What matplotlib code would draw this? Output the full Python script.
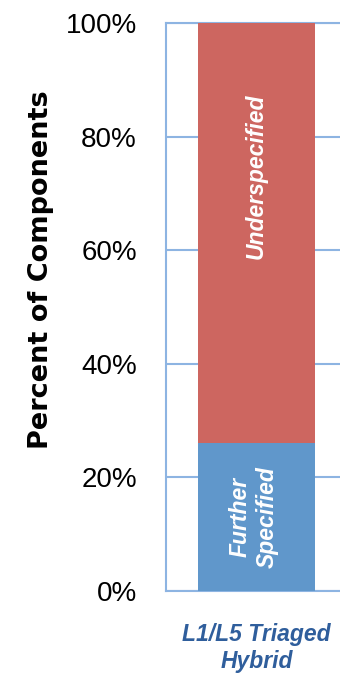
import matplotlib
matplotlib.use("Agg")
import matplotlib.pyplot as plt
from matplotlib.ticker import FuncFormatter

categories = ["L1/L5 Triaged\nHybrid"]
further_specified = [26]
underspecified = [74]
segment_labels = ["Further\nSpecified", "Underspecified"]
yticks = [0, 20, 40, 60, 80, 100]

red = "#CD6660"
blue = "#6097CB"
grid_c = "#8DB4E2"

fig = plt.figure(figsize=(3.4, 6.74), dpi=100)
ax = fig.add_axes([166/340, 83/674, 188/340, 568/674])

x = list(range(len(categories)))
w = 0.6
b1 = ax.bar(x, further_specified, width=w, color=blue, zorder=3)
b2 = ax.bar(x, underspecified, width=w, bottom=further_specified, color=red, zorder=3)

for i in x:
    ax.text(i - 0.015, further_specified[i] / 2, segment_labels[0], rotation=90,
            ha="center", va="center", color="white", fontsize=16.5,
            fontweight="bold", fontstyle="italic", family="Liberation Sans",
            linespacing=1.25, zorder=4)
    ax.text(i, further_specified[i] + underspecified[i] * 0.635, segment_labels[1], rotation=90,
            ha="center", va="center", color="white", fontsize=16.5,
            fontweight="bold", fontstyle="italic", family="Liberation Sans", zorder=4)

ax.set_xlim(-0.464, 0.5)
ax.set_ylim(0, 100)
ax.set_yticks(yticks)
ax.yaxis.set_major_formatter(FuncFormatter(lambda v, p: f"{v:.0f}%"))
ax.tick_params(axis="y", length=0, pad=21, labelsize=20)
for lab in ax.get_yticklabels():
    lab.set_family("Liberation Sans")
ax.set_xticks(x)
ax.set_xticklabels(categories, fontsize=16.5, fontweight="bold", fontstyle="italic",
                   color="#2F5E9C", family="Liberation Sans", linespacing=1.25)
ax.tick_params(axis="x", length=0, pad=23)

ax.yaxis.grid(True, color=grid_c, linewidth=1.5, zorder=0)
for s in ["top", "bottom", "left"]:
    ax.spines[s].set_color(grid_c)
    ax.spines[s].set_linewidth(1.5)
ax.spines["right"].set_visible(False)

fig.text(41/340, (674 - 270) / 674, "Percent of Components", rotation=90,
         ha="center", va="center", fontsize=19.5, fontweight="bold", family="DejaVu Sans")

fig.savefig("out.png", dpi=100)
